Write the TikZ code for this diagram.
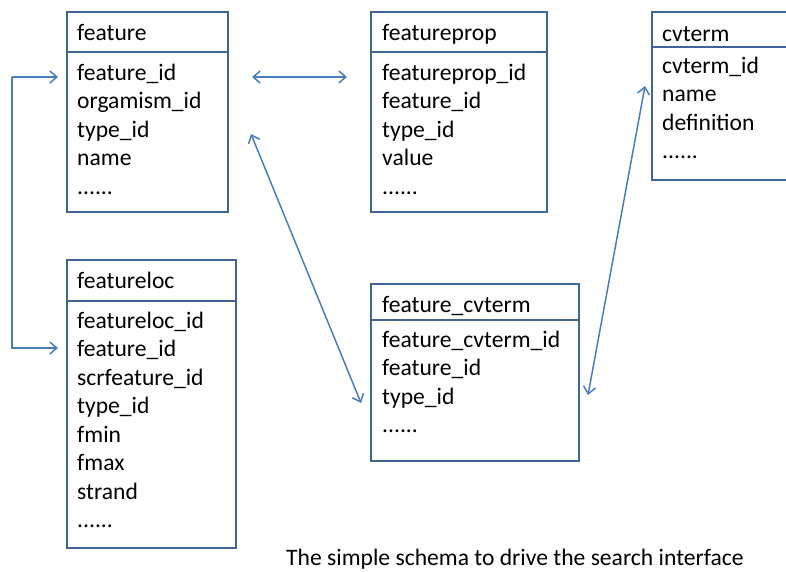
\documentclass[tikz,border=0pt]{standalone}
\usepackage{fontspec}
\setmainfont{Carlito}
\usetikzlibrary{arrows.meta}
\definecolor{boxblue}{HTML}{3F6594}
\definecolor{arrowblue}{HTML}{4A7EBB}
\newcommand\mysixdots{......}
\begin{document}
\begin{tikzpicture}[x=1pt,y=-1pt,
  tbl/.style={draw=boxblue,line width=2.4pt,anchor=north west,inner sep=0pt,outer sep=0pt},
  divider/.style={draw=boxblue,line width=2.4pt},
  txt/.style={anchor=base west,inner sep=0pt,font=\fontsize{23.6}{28.5}\selectfont},
  link/.style={draw=arrowblue,line width=1.5pt,-{Straight Barb[length=7pt,width=12pt,line width=1.5pt]}},
  dlink/.style={draw=arrowblue,line width=1.5pt,{Straight Barb[length=7pt,width=12pt,line width=1.5pt]}-{Straight Barb[length=7pt,width=12pt,line width=1.5pt]}}]
\useasboundingbox (0,0) rectangle (786,571);
\begin{scope}
\clip (0,0) rectangle (786,571);
% tables
\node[tbl,minimum width=161pt,minimum height=200pt] (feature) at (67,12) {};
\node[tbl,minimum width=176pt,minimum height=200pt] (featureprop) at (371,12) {};
\node[tbl,minimum width=150pt,minimum height=168pt] (cvterm) at (652,12) {};
\node[tbl,minimum width=169pt,minimum height=288pt] (featureloc) at (67,260) {};
\node[tbl,minimum width=208pt,minimum height=177pt] (fcv) at (371,284) {};
\draw[divider] (67,52) -- (228,52);
\draw[divider] (371,52) -- (547,52);
\draw[divider] (652,47) -- (800,47);
\draw[divider] (67,301) -- (236,301);
\draw[divider] (371,320) -- (579,320);
\end{scope}
% headers
\node[txt] (hfeature) at (77,40) {feature};
\node[txt] (hfeatureprop) at (382,40) {featureprop};
\node[txt] (hcvterm) at (662,41) {cvterm};
\node[txt] (hfeatureloc) at (77,288) {featureloc};
\node[txt] (hfcv) at (382,312) {feature\_cvterm};
% fields
\foreach \t [count=\i from 0] in {feature\_id,orgamism\_id,type\_id,name,\mysixdots}
  \node[txt] (fa\i) at (77,80+28.5*\i) {\t};
\foreach \t [count=\i from 0] in {featureprop\_id,feature\_id,type\_id,value,\mysixdots}
  \node[txt] (fb\i) at (382,80+28.5*\i) {\t};
\foreach \t [count=\i from 0] in {cvterm\_id,name,definition,\mysixdots}
  \node[txt] (fc\i) at (662,73+28.5*\i) {\t};
\foreach \t [count=\i from 0] in {featureloc\_id,feature\_id,scrfeature\_id,type\_id,fmin,fmax,strand,\mysixdots}
  \node[txt] (fd\i) at (77,328+28.5*\i) {\t};
\foreach \t [count=\i from 0] in {feature\_cvterm\_id,feature\_id,type\_id,\mysixdots}
  \node[txt] (fe\i) at (382,347+28.5*\i) {\t};
% caption
\node[txt] (caption) at (286,565) {The simple schema to drive the search interface};
% connector ends
\coordinate (bt) at (58,77);
\coordinate (bb) at (58,348);
\coordinate (bl) at (12,77);
\coordinate (bl2) at (12,348);
\coordinate (pa) at (252,77);
\coordinate (pb) at (347,77);
\coordinate (ca) at (251,134);
\coordinate (cb) at (361,403);
\coordinate (da) at (645,86);
\coordinate (db) at (588,395);
% connectors
\draw[link] (bl) -- (bt);
\draw[link] (bl) -- (bl2) -- (bb);
\draw[dlink] (pa) -- (pb);
\draw[dlink] (ca) -- (cb);
\draw[dlink] (da) -- (db);
\end{tikzpicture}
\end{document}
